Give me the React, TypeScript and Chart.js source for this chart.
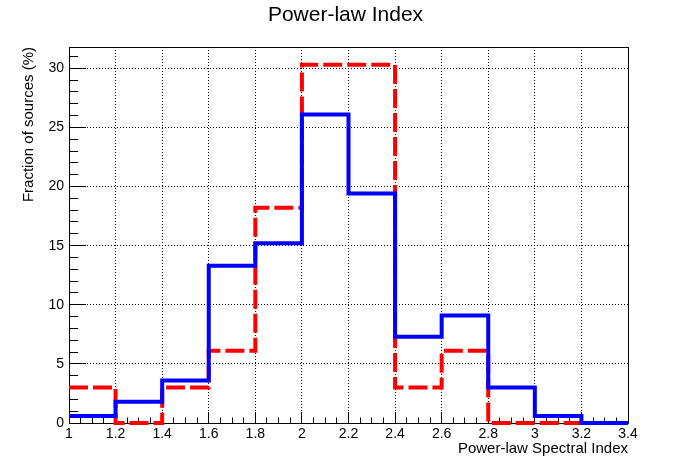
import React, { useEffect, useRef } from 'react';
import { Chart, registerables } from 'chart.js';

Chart.register(...registerables);

// ---- data ----
const BIN_EDGES = [1.0, 1.2, 1.4, 1.6, 1.8, 2.0, 2.2, 2.4, 2.6, 2.8, 3.0, 3.2, 3.4];
const BLUE_VALUES = [0.6, 1.8, 3.6, 13.3, 15.2, 26.1, 19.4, 7.3, 9.1, 3.0, 0.6, 0.0];
const RED_VALUES = [3.0, 0.0, 3.0, 6.1, 18.2, 30.3, 30.3, 3.0, 6.1, 0.0, 0.0, 0.0];
const X_TICK_LABELS = ['1', '1.2', '1.4', '1.6', '1.8', '2', '2.2', '2.4', '2.6', '2.8', '3', '3.2', '3.4'];
const Y_TICK_VALUES = [0, 5, 10, 15, 20, 25, 30];

const TITLE = 'Power-law Index';
const X_TITLE = 'Power-law Spectral Index';
const Y_TITLE = 'Fraction of sources (%)';

const X_MIN = 1.0;
const X_MAX = 3.4;
const Y_MIN = 0;
const Y_MAX = 31.8;

const FONT = "'Liberation Sans', Arial, Helvetica, sans-serif";

function histPoints(values: number[]) {
  return BIN_EDGES.map((e, i) => ({ x: e, y: values[Math.min(i, values.length - 1)] }));
}

function align(p: number) {
  return Math.round(p - 0.5) + 0.5;
}

const rootFrame = {
  id: 'rootFrame',
  beforeDatasetsDraw(chart: any) {
    const { ctx, chartArea } = chart;
    const { left, right, top, bottom } = chartArea;
    const xs = chart.scales.x;
    const ys = chart.scales.y;
    ctx.save();
    ctx.strokeStyle = '#000';
    ctx.lineWidth = 1;
    ctx.setLineDash([]);
    ctx.beginPath();
    // x ticks (inside, major every 0.2, minor every 0.05)
    const nx = Math.round((X_MAX - X_MIN) / 0.05);
    for (let i = 0; i <= nx; i++) {
      const px = align(xs.getPixelForValue(X_MIN + i * 0.05));
      const len = i % 4 === 0 ? 11 : 5.5;
      ctx.moveTo(px, bottom);
      ctx.lineTo(px, bottom - len);
    }
    // y ticks (inside, major every 5, minor every 1)
    for (let v = 0; v <= Math.floor(Y_MAX); v++) {
      const py = align(ys.getPixelForValue(v));
      const len = v % 5 === 0 ? 17 : 9;
      ctx.moveTo(left, py);
      ctx.lineTo(left + len, py);
    }
    ctx.stroke();
    // frame
    const l = align(left), r = align(right), t = align(top), b = align(bottom);
    ctx.beginPath();
    ctx.rect(l, t, r - l, b - t);
    ctx.stroke();
    ctx.restore();
  },
};

export default function App() {
  const ref = useRef<HTMLCanvasElement | null>(null);

  useEffect(() => {
    if (!ref.current) return;
    const chart = new Chart(ref.current, {
      type: 'line',
      data: {
        datasets: [
          {
            label: 'blue',
            data: histPoints(BLUE_VALUES),
            borderColor: '#0000ff',
            borderWidth: 4,
            stepped: 'before',
            pointRadius: 0,
            pointHoverRadius: 0,
            fill: false,
            tension: 0,
            borderJoinStyle: 'miter',
            borderCapStyle: 'butt',
            clip: false,
          },
          {
            label: 'red',
            data: histPoints(RED_VALUES),
            borderColor: '#ff0000',
            borderWidth: 4,
            borderDash: [19, 5],
            stepped: 'before',
            pointRadius: 0,
            pointHoverRadius: 0,
            fill: false,
            tension: 0,
            borderJoinStyle: 'miter',
            borderCapStyle: 'butt',
            clip: false,
          },
        ],
      } as any,
      plugins: [rootFrame],
      options: {
        animation: false,
        responsive: false,
        devicePixelRatio: 1,
        events: [],
        layout: { padding: { left: 0, right: 7, top: 0, bottom: 0 } },
        plugins: {
          legend: { display: false },
          tooltip: { enabled: false },
          title: {
            display: true,
            text: TITLE,
            color: '#000',
            font: { family: FONT, size: 21, weight: 'normal', lineHeight: 1.2 },
            padding: { top: 2.4, bottom: 19.4 },
          },
        },
        scales: {
          x: {
            type: 'linear',
            min: X_MIN,
            max: X_MAX,
            afterFit: (s: any) => { s.height = 48; },
            grid: { display: true, color: '#000', lineWidth: 1, drawTicks: false, drawOnChartArea: true },
            border: { display: false, dash: [1, 2] },
            ticks: {
              stepSize: 0.2,
              autoSkip: false,
              maxRotation: 0,
              minRotation: 0,
              padding: 3,
              color: '#000',
              font: { family: FONT, size: 14 },
              callback: (v: any) => {
                const idx = BIN_EDGES.findIndex((e) => Math.abs(e - Number(v)) < 1e-6);
                return idx >= 0 ? X_TICK_LABELS[idx] : '';
              },
            },
            title: {
              display: true,
              text: X_TITLE,
              align: 'end',
              color: '#000',
              font: { family: FONT, size: 15, lineHeight: 1.2 },
              padding: { top: 0, bottom: 13 },
            },
          },
          y: {
            type: 'linear',
            min: Y_MIN,
            max: Y_MAX,
            afterFit: (s: any) => { s.width = 69; },
            afterBuildTicks: (s: any) => {
              s.ticks = s.ticks.filter((t: any) => Y_TICK_VALUES.some((v) => Math.abs(v - t.value) < 1e-6));
            },
            grid: { display: true, color: '#000', lineWidth: 1, drawTicks: false, drawOnChartArea: true },
            border: { display: false, dash: [1, 2] },
            ticks: {
              stepSize: 5,
              padding: 5,
              color: '#000',
              font: { family: FONT, size: 14 },
              callback: (v: any) => String(v),
            },
            title: {
              display: true,
              text: Y_TITLE,
              align: 'end',
              color: '#000',
              font: { family: FONT, size: 15, lineHeight: 1.2 },
              padding: { top: 20, bottom: 0 },
            },
          },
          yRight: {
            type: 'linear',
            position: 'right',
            display: true,
            afterFit: (s: any) => { s.width = 63; },
            grid: { display: false, drawTicks: false },
            border: { display: false },
            ticks: { display: false },
            title: { display: false },
          },
        },
      } as any,
    });
    return () => chart.destroy();
  }, []);

  return (
    <div style={{ position: 'absolute', left: 0, top: 0, width: 698, height: 471, background: '#fff' }}>
      <canvas ref={ref} width={698} height={471} style={{ display: 'block' }} />
    </div>
  );
}
